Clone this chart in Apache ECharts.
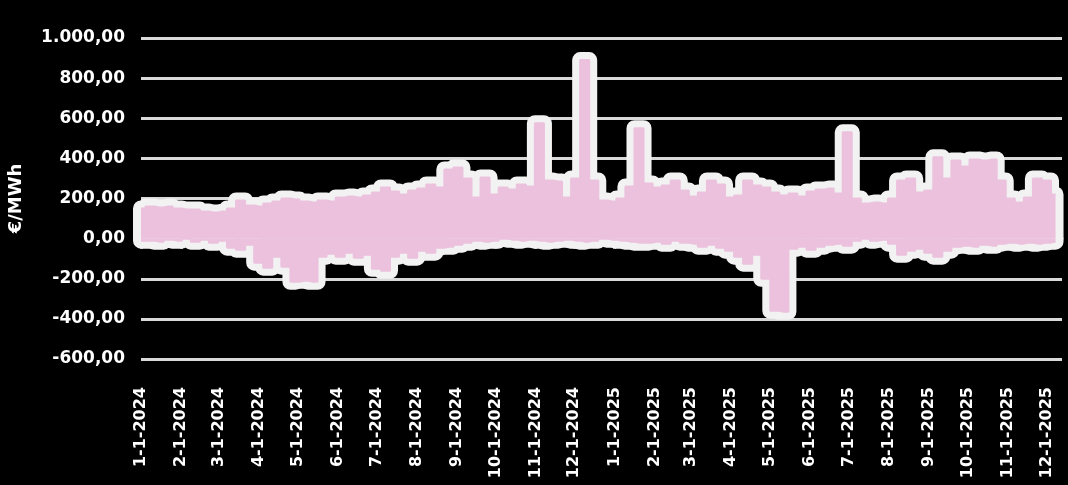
<!DOCTYPE html>
<html>
<head>
<meta charset="utf-8">
<script src="https://cdn.jsdelivr.net/npm/echarts@6/dist/echarts.min.js"></script>
<style>
  html, body { margin: 0; padding: 0; background: #000; }
  #chart { width: 1068px; height: 485px; }
</style>
</head>
<body>
<div id="chart"></div>
<script>
// weekly max / min price (€/MWh), week 0 = 1 Jan 2024
const highs = [
  150, 160, 155, 160, 150, 145, 145, 135, 130, 135,
  150, 190, 165, 160, 175, 185, 200, 195, 185, 180,
  190, 185, 205, 210, 205, 215, 230, 255, 235, 220,
  240, 250, 270, 255, 345, 355, 300, 205, 305, 220,
  255, 245, 270, 260, 575, 290, 285, 205, 300, 890,
  290, 190, 185, 200, 260, 550, 275, 255, 265, 290,
  240, 210, 230, 290, 270, 205, 215, 290, 265, 255,
  230, 215, 225, 210, 235, 245, 250, 225, 530, 200,
  175, 180, 175, 200, 290, 300, 230, 240, 405, 300,
  390, 360, 395, 390, 395, 290, 200, 180, 205, 300,
  290, 220
];
const lows = [
  -10, -10, -15, -5, -10, 0, -15, -5, -20, -10,
  -45, -55, -30, -120, -145, -90, -140, -215, -210, -215,
  -90, -75, -90, -70, -95, -80, -150, -160, -90, -70,
  -95, -60, -70, -45, -40, -30, -20, -10, -15, -10,
  0, -5, -10, -5, -10, -15, -10, -5, -10, -15,
  -10, 0, -5, -10, -15, -20, -20, -15, -25, -10,
  -20, -25, -40, -30, -45, -60, -90, -125, -80, -200,
  -360, -365, -50, -40, -55, -40, -30, -25, -35, -10,
  0, -10, -5, -25, -80, -60, -50, -70, -90, -60,
  -40, -35, -40, -30, -35, -25, -20, -25, -20, -25,
  -20, -15
];
const tickLabels = [
  '1-1-2024', '2-1-2024', '3-1-2024', '4-1-2024', '5-1-2024', '6-1-2024',
  '7-1-2024', '8-1-2024', '9-1-2024', '10-1-2024', '11-1-2024', '12-1-2024',
  '1-1-2025', '2-1-2025', '3-1-2025', '4-1-2025', '5-1-2025', '6-1-2025',
  '7-1-2025', '8-1-2025', '9-1-2025', '10-1-2025', '11-1-2025', '12-1-2025'
];

const weekDates = highs.map((_, i) => new Date(2024, 0, 1 + 7 * i).getTime());
const tickValues = tickLabels.map(s => {
  const p = s.split('-');
  return new Date(+p[2], +p[0] - 1, +p[1]).getTime();
});

const hiData = weekDates.map((t, i) => [t, highs[i]]);
const loData = weekDates.map((t, i) => [t, lows[i]]);
// outline runs along the top, then back along the bottom
const haloData = hiData.concat(loData.slice().reverse(), [hiData[0]]);

function fmt(v) {
  const neg = v < 0;
  let s = String(Math.abs(v)).replace(/\B(?=(\d{3})+(?!\d))/g, '.');
  return (neg ? '-' : '') + s + ',00';
}

const pink = '#ebc1dd';
const font = '"DejaVu Sans", sans-serif';

var myChart = echarts.init(document.getElementById('chart'));
var option = {
  backgroundColor: '#000',
  animation: false,
  grid: { left: 141, right: 6, top: 38, bottom: 126, containLabel: false, outerBoundsMode: 'none' },
  xAxis: {
    type: 'value',
    min: new Date(2024, 0, 1).getTime(),
    max: new Date(2025, 11, 13).getTime(),
    axisLine: { show: true, lineStyle: { color: '#d9d9d9', width: 3 } },
    axisTick: {
      show: true, customValues: tickValues, length: 10,
      lineStyle: { color: '#d9d9d9', width: 3 }
    },
    axisLabel: {
      customValues: tickValues,
      rotate: 90,
      margin: 28,
      color: '#fff',
      fontSize: 16,
      fontWeight: 'bold',
      fontFamily: font,
      formatter: function (val) {
        const i = tickValues.indexOf(val);
        return i >= 0 ? tickLabels[i] : '';
      }
    },
    splitLine: { show: false }
  },
  yAxis: {
    type: 'value',
    min: -600,
    max: 1000,
    interval: 200,
    name: '€/MWh',
    nameLocation: 'middle',
    nameGap: 116,
    nameTextStyle: { color: '#fff', fontSize: 18, fontWeight: 'bold', fontFamily: font },
    axisLine: { show: false },
    axisTick: { show: false },
    axisLabel: {
      color: '#fff', fontSize: 17, fontWeight: 'bold', fontFamily: font, margin: 16,
      formatter: fmt
    },
    splitLine: { lineStyle: { color: '#d9d9d9', width: 3 } }
  },
  series: [
    {
      name: 'halo',
      type: 'line',
      data: haloData,
      step: 'middle',
      clip: false,
      showSymbol: false,
      silent: true,
      lineStyle: { color: '#f2f2f2', width: 16, join: 'round', cap: 'round' },
      z: 2
    },
    {
      name: 'max',
      type: 'line',
      data: hiData,
      step: 'middle',
      showSymbol: false,
      lineStyle: { color: pink, width: 2 },
      areaStyle: { color: pink, opacity: 1 },
      z: 3
    },
    {
      name: 'min',
      type: 'line',
      data: loData,
      step: 'middle',
      showSymbol: false,
      lineStyle: { color: pink, width: 2 },
      areaStyle: { color: pink, opacity: 1 },
      z: 3
    }
  ]
};
myChart.setOption(option);
window.addEventListener('resize', () => {
  myChart.resize();
});
</script>
</body>
</html>
